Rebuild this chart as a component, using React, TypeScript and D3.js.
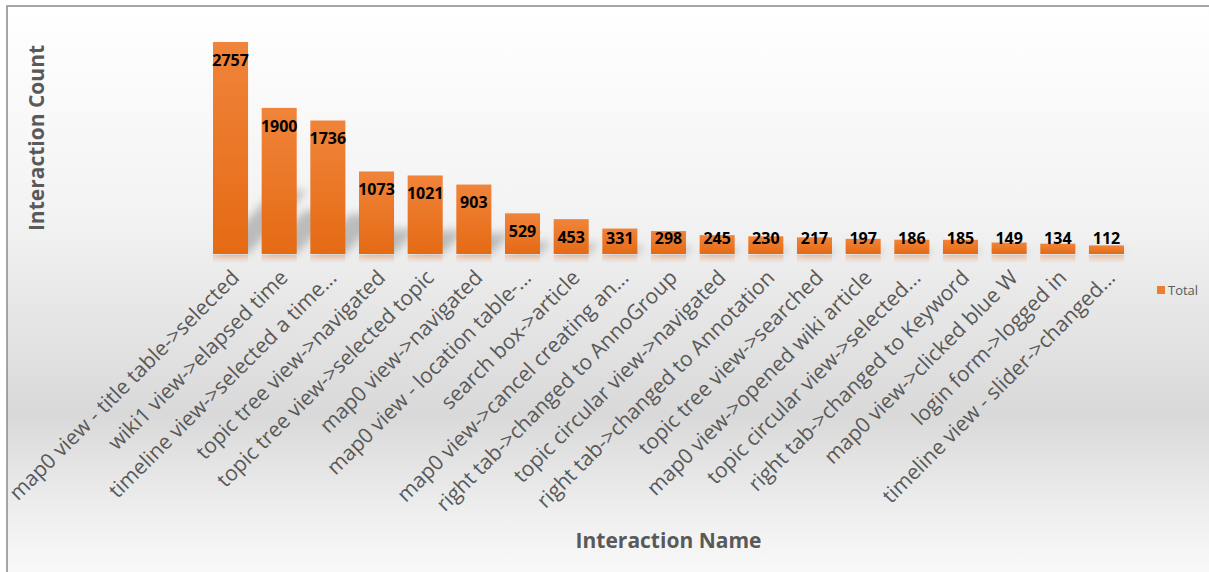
import React from "react";
import * as d3 from "d3";

const categories: string[] = [
  "map0 view - title table->selected",
  "wiki1 view->elapsed time",
  "timeline view->selected a time...",
  "topic tree view->navigated",
  "topic tree view->selected topic",
  "map0 view->navigated",
  "map0 view - location table-...",
  "search box->article",
  "map0 view->cancel creating an...",
  "right tab->changed to AnnoGroup",
  "topic circular view->navigated",
  "right tab->changed to Annotation",
  "topic tree view->searched",
  "map0 view->opened wiki article",
  "topic circular view->selected...",
  "right tab->changed to Keyword",
  "map0 view->clicked blue W",
  "login form->logged in",
  "timeline view - slider->changed...",
];
const totals: number[] = [2757, 1900, 1736, 1073, 1021, 903, 529, 453, 331, 298, 245, 230, 217, 197, 186, 185, 149, 134, 112];
const seriesName = "Total";
const yTitle = "Interaction Count";
const xTitle = "Interaction Name";

const W = 1209;
const H = 572;
const BASE = 254;
const FONT = "'Open Sans', 'Segoe UI', sans-serif";
const GREY_TEXT = "#595959";

export default function App() {
  const x = d3.scaleBand<string>().domain(categories).range([206.2, 1130.8]).paddingInner(0.28).paddingOuter(0.14);
  const y = d3.scaleLinear().domain([0, 3000]).range([BASE, BASE - 3000 * 0.0769]);
  const bw = x.bandwidth();

  return (
    <svg width={W} height={H} style={{ position: "absolute", left: 0, top: 0 }} fontFamily={FONT}>
      <defs>
        <linearGradient id="bg" x1="0" y1="0" x2="0" y2="1">
          <stop offset="0" stopColor="#ffffff" />
          <stop offset="0.35" stopColor="#f3f3f3" />
          <stop offset="0.69" stopColor="#d9d9d9" />
          <stop offset="0.86" stopColor="#efefef" />
          <stop offset="1" stopColor="#fdfdfd" />
        </linearGradient>
        <linearGradient id="bar" x1="0" y1="0" x2="0" y2="1">
          <stop offset="0" stopColor="#f0843a" />
          <stop offset="1" stopColor="#e56a14" />
        </linearGradient>
        <linearGradient id="refl" x1="0" y1="0" x2="0" y2="1">
          <stop offset="0" stopColor="#f08a45" stopOpacity="0.35" />
          <stop offset="1" stopColor="#f08a45" stopOpacity="0" />
        </linearGradient>
        <filter id="blur" x="-50%" y="-50%" width="200%" height="200%">
          <feGaussianBlur stdDeviation="4" />
        </filter>
      </defs>
      <rect x={0} y={0} width={W} height={H} fill="#ffffff" />
      <rect x={7} y={6} width={W + 20} height={H + 20} fill="url(#bg)" stroke="#8a8a8a" strokeWidth={1.5} />

      {/* shadows */}
      <g filter="url(#blur)" opacity={0.45}>
        {categories.map((c, i) => {
          const x0 = x(c)!;
          const h = BASE - y(totals[i]);
          const sx = 0.28 * h;
          const sy = 0.3 * h;
          return (
            <path
              key={c}
              d={`M${x0 + 2},${BASE} L${x0 + bw},${BASE} L${x0 + bw + sx},${BASE - sy} L${x0 + 2 + sx},${BASE - sy} Z`}
              fill="#7a7a7a"
            />
          );
        })}
      </g>

      {/* reflections */}
      {categories.map((c) => (
        <rect key={c} x={x(c)!} y={BASE + 1} width={bw} height={8} fill="url(#refl)" />
      ))}

      {/* bars */}
      {categories.map((c, i) => (
        <rect key={c} x={x(c)!} y={y(totals[i])} width={bw} height={BASE - y(totals[i])} fill="url(#bar)" />
      ))}

      {/* data labels */}
      {categories.map((c, i) => (
        <text
          key={c}
          x={x(c)! + bw / 2}
          y={Math.min(y(totals[i]) + 18, 238.5)}
          dy="0.36em"
          textAnchor="middle"
          fontSize={16}
          fontWeight={700}
          fill="#000"
        >
          {totals[i]}
        </text>
      ))}

      {/* category labels */}
      {categories.map((c) => (
        <text
          key={c}
          transform={`translate(${x(c)! + bw / 2 + 10},${BASE + 25}) rotate(-45)`}
          textAnchor="end"
          fontSize={21}
          fill={GREY_TEXT}
        >
          {c}
        </text>
      ))}

      {/* axis titles */}
      <text transform={`translate(44,138) rotate(-90)`} textAnchor="middle" fontSize={21} fontWeight={700} fill={GREY_TEXT}>
        {yTitle}
      </text>
      <text x={668.5} y={548} textAnchor="middle" fontSize={21} fontWeight={700} fill={GREY_TEXT}>
        {xTitle}
      </text>

      {/* legend */}
      <rect x={1157} y={286} width={8} height={8} fill="#ed7d31" />
      <text x={1168} y={290} dy="0.36em" fontSize={13} fill={GREY_TEXT}>
        {seriesName}
      </text>
    </svg>
  );
}
